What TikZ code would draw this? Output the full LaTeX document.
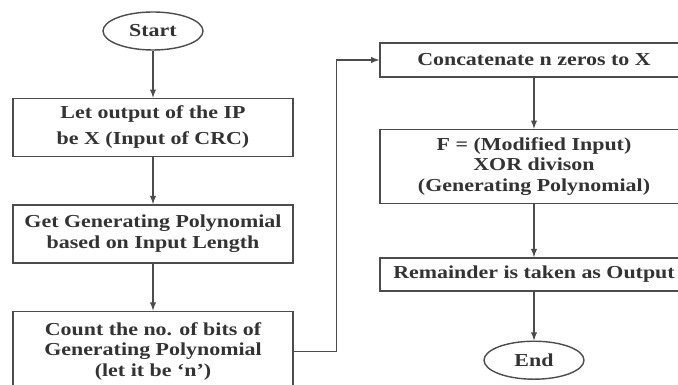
\documentclass[tikz,border=0pt]{standalone}
\usepackage{fontspec}
\setmainfont{Liberation Serif}[FakeStretch=1.2]
\usetikzlibrary{arrows,positioning,shapes.geometric}

\begin{document}
\begin{tikzpicture}[font=\bfseries\fontsize{13}{14.5}\selectfont,
	box/.style={draw=black!70, line width=1pt, rectangle, align=center, text=black!80, minimum width=7cm, minimum height=1.45cm, inner sep=2pt},
	rbox/.style={box, minimum width=7.7cm},
	term/.style={draw=black!70, line width=1pt, ellipse, text=black!80, minimum width=2.5cm, minimum height=0.95cm, inner sep=0pt},
	flow/.style={draw=black!70, line width=1pt, -latex}]
	\useasboundingbox (0,0) rectangle (16.95,-9.625);

	% left column
	\node[term] (start) at (3.825,-0.775) {Start};
	\node[box, below=1.175cm of start] (ip) {Let output of the IP\\[4pt] be X (Input of CRC)};
	\node[box, below=1.175cm of ip] (gen) {Get Generating Polynomial\\based on Input Length};
	\node[box, minimum height=2cm, below=1.175cm of gen] (count) {Count the no. of bits of\\Generating Polynomial\\(let it be `n')};

	% right column
	\node[rbox, minimum height=0.85cm] (cat) at (13.35,-1.5) {Concatenate n zeros to X};
	\node[rbox, minimum height=1.85cm, below=1.275cm of cat] (xor) {F = (Modified Input)\\XOR divison\\(Generating Polynomial)};
	\node[rbox, minimum height=0.825cm, below=1.325cm of xor] (rem) {Remainder is taken as Output};
	\node[term, below=1.225cm of rem] (stop) {End};

	\draw[flow] (start) -- (ip);
	\draw[flow] (ip) -- (gen);
	\draw[flow] (gen) -- (count);
	\draw[flow] (count.east) -- ++(1.075,0) |- (cat.west);
	\draw[flow] (cat) -- (xor);
	\draw[flow] (xor) -- (rem);
	\draw[flow] (rem) -- (stop);
\end{tikzpicture}
\end{document}
